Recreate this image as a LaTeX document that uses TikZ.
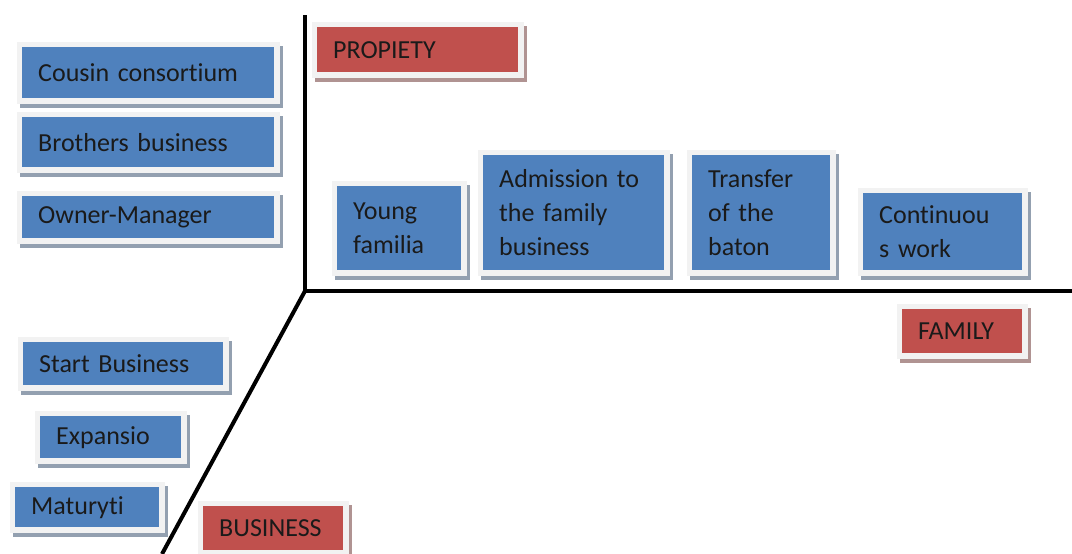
\documentclass[tikz,border=0pt]{standalone}
\usepackage{fontspec}
\setmainfont{Carlito}[Ligatures={NoCommon}]
\definecolor{boxblue}{HTML}{4F81BD}
\definecolor{boxred}{HTML}{C0504D}
\definecolor{framegray}{HTML}{F2F2F2}
\definecolor{txt}{HTML}{1A1A1A}
\tikzset{
  card/.style={fill=#1, anchor=north west, inner xsep=16pt, inner ysep=0pt,
    align=left, text=txt, font=\fontsize{26}{34}\selectfont,
    preaction={draw=#1!35!gray!75, line width=11pt,
      transform canvas={shift={(3pt,-4pt)}}},
    preaction={draw=framegray, line width=11pt}},
  bluecard/.style={card=boxblue},
  redcard/.style={card=boxred},
  axisline/.style={line width=4pt, black, line join=miter}
}
\begin{document}
\begin{tikzpicture}[x=1pt, y=-1pt]
\fill[white] (0,0) rectangle (1072,554);
\useasboundingbox (0,0) rectangle (1072,554);

% axes
\coordinate (origin) at (305,291);
\coordinate (ytop) at (305,15);
\coordinate (xend) at (1072,291);
\coordinate (zend) at (162,554);
\draw[axisline] (ytop) -- (origin) -- (xend);
\draw[axisline] (origin) -- (zend);

% ownership stages
\node[bluecard, text width=220pt, minimum height=51pt] (cousin) at (22,47) {Cousin consortium};
\node[bluecard, text width=220pt, minimum height=50pt] (brothers) at (22,117) {Brothers business};
\node[bluecard, text width=220pt, minimum height=42pt] (owner) at (22,196) {Owner-Manager};
\node[redcard, text width=169pt, minimum height=45pt] (propiety) at (317,27) {PROPIETY};

% family stages
\node[bluecard, text width=92pt, minimum height=84pt] (young) at (337,186) {Young\\familia};
\node[bluecard, text width=149pt, minimum height=115pt] (admission) at (483,155) {Admission to\\the family\\business};
\node[bluecard, text width=106pt, minimum height=115pt] (transfer) at (692,155) {Transfer\\of the\\baton};
\node[bluecard, text width=127pt, minimum height=77pt] (continuous) at (863,193) {Continuou\\s work};
\node[redcard, text width=88pt, minimum height=44pt] (family) at (902,309) {FAMILY};

% business stages
\node[bluecard, text width=168pt, minimum height=43pt] (start) at (23,342) {Start Business};
\node[bluecard, text width=109pt, minimum height=42pt] (expansio) at (40,416) {Expansio};
\node[bluecard, text width=112pt, minimum height=40pt] (maturyti) at (15,487) {Maturyti};
\node[redcard, text width=108pt, minimum height=44pt] (business) at (203,506) {BUSINESS};
\end{tikzpicture}
\end{document}
